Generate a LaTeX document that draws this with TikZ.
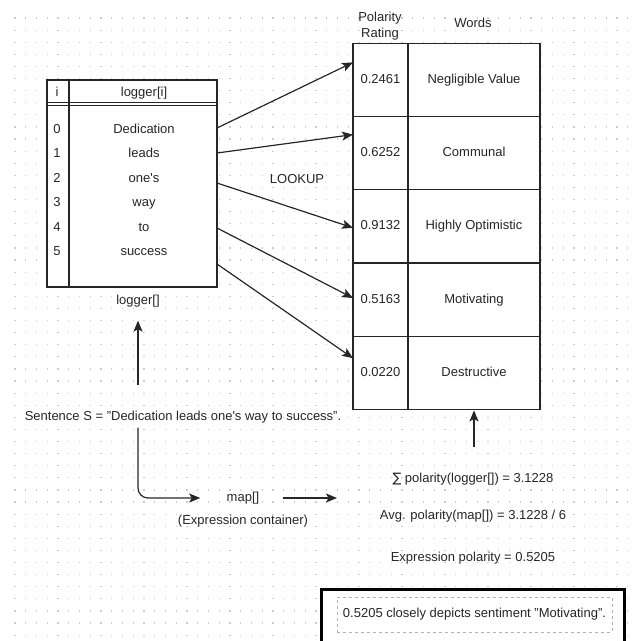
\documentclass[tikz,border=0pt]{standalone}
\usepackage{fontspec}
\setmainfont{Liberation Sans}
\newfontfamily\symfont{DejaVu Sans}
\usepackage{tikz}
\usetikzlibrary{arrows.meta,positioning,calc}

\begin{document}
\begin{tikzpicture}[
    x=1pt, y=-1pt,
    font=\fontsize{13}{16.5}\selectfont,
    every node/.style={text=black!85, text height=9.5pt, text depth=2.7pt},
    gridpt/.style={fill=black!20},
    rule/.style={draw=black!85, line width=1.2pt},
    frame/.style={rectangle, rule, fill=white, outer sep=0pt},
    polcell/.style={frame, minimum width=55pt, minimum height=73.2pt, inner sep=0pt},
    wordcell/.style={polcell, minimum width=132pt},
    line/.style={draw=black!85, line width=1.2pt, -{Stealth[length=11pt,width=9pt,inset=2.5pt]}}
]
\useasboundingbox (0,0) rectangle (633,641);
\clip (0,0) rectangle (633,641);

% dotted background
\foreach \gx in {0,...,57}
  \foreach \gy in {0,...,51}
    \fill[gridpt] (15+\gx*10.75-0.6, 18+\gy*12.1-0.6) rectangle ++(1.2,1.2);

% logger table
\node [frame, minimum width=170pt, minimum height=207pt] (logbox) at (132,183.5) {};
\draw [rule] ($(logbox.north west)+(22,0)$) -- ($(logbox.south west)+(22,0)$);
\draw [rule, line width=0.9pt] ($(logbox.north west)+(0,22.8)$) -- ($(logbox.north east)+(0,22.8)$);
\draw [rule, line width=0.9pt] ($(logbox.north west)+(0,25.3)$) -- ($(logbox.north east)+(0,25.3)$);
\node (ihead) at (57,93) {i};
\node (loghead) at (144,93) {logger[i]};
\foreach \w [count=\k from 0] in {Dedication,leads,one\textquotesingle s,way,to,success} {
  \node (idx\k) at (57,130+24.4*\k) {\k};
  \node (word\k) at (144,130+24.4*\k) {\w};
}
\node (loglabel) at (138,301) {logger[]};

% polarity table
\node [align=center, text height=, text depth=] (polhead) at (380,26) {Polarity\\Rating};
\node (wordhead) at (473,24) {Words};
\node [polcell] (p1) at (380.5,80) {0.2461};
\node [wordcell, right=0pt of p1] (w1) {Negligible Value};
\foreach \val/\wordtxt [count=\k from 2] in {0.6252/Communal,0.9132/Highly Optimistic,0.5163/Motivating,0.0220/Destructive} {
  \pgfmathtruncatemacro\prev{\k-1}
  \node [polcell, below=0pt of p\prev] (p\k) {\val};
  \node [wordcell, right=0pt of p\k] (w\k) {\wordtxt};
}

\node (lookup) at (297,180) {LOOKUP};

\path [line] ($(logbox.north east)+(0,48)$) -- ($(p1.north west)+(0,19)$);
\path [line] ($(logbox.north east)+(0,73)$) -- ($(p2.north west)+(0,18)$);
\path [line] ($(logbox.north east)+(0,103)$) -- ($(p3.north west)+(0,38)$);
\path [line] ($(logbox.north east)+(0,148)$) -- ($(p4.north west)+(0,35)$);
\path [line] ($(logbox.north east)+(0,184)$) -- ($(p5.north west)+(0,22)$);

% sentence and expression container
\node (sentence) at (183,417) {Sentence S = "Dedication leads one\textquotesingle s way to success".};
\path [line, shorten <=22pt, shorten >=10pt] (sentence.north -| loglabel) -- (loglabel.south);

\node (mapc) at (243,498) {map[]};
\node (exprlabel) at (243,521) {(Expression container)};
\path [line, rounded corners=10pt, shorten <=1pt, shorten >=23pt] (sentence.south -| loglabel) |- (mapc.west);

\coordinate (mapout) at (337,498);
\path [line, shorten <=20pt] (mapc.east) -- (mapout);

% averaging
\node (sumnode) at (473,479) {{\symfont ∑} polarity(logger[]) = 3.1228};
\node (avgnode) at (473,516) {Avg. polarity(map[]) = 3.1228 / 6};
\node (exprnode) at (473,558) {Expression polarity = 0.5205};
\path [line, shorten <=22pt, shorten >=1pt] (sumnode.north -| w5.south) -- (w5.south);

% result
\draw [black, line width=3pt, fill=white] (321.5,589.5) rectangle (624.5,690);
\node [draw=black!30, dashed, line width=0.8pt, minimum width=275pt, minimum height=35pt] (verdict) at (474.5,614.5) {0.5205 closely depicts sentiment "Motivating".};

\end{tikzpicture}
\end{document}
